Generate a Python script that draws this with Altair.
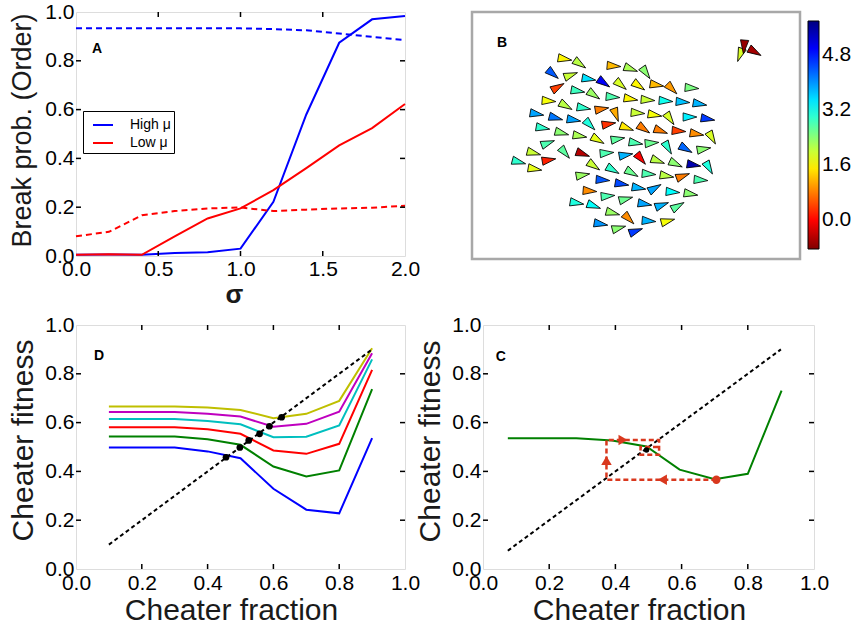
import altair as alt
import pandas as pd

FONT = "Liberation Sans"

# ---------------- Panel A : break probability vs sigma ----------------
sigma = [0.0, 0.2, 0.4, 0.6, 0.8, 1.0, 1.2, 1.4, 1.6, 1.8, 2.0]
high_break = [0.005, 0.006, 0.005, 0.012, 0.015, 0.03, 0.222, 0.58, 0.874, 0.97, 0.984]
low_break = [0.005, 0.007, 0.005, 0.08, 0.154, 0.195, 0.27, 0.36, 0.453, 0.524, 0.623]
high_order = [0.933, 0.933, 0.933, 0.933, 0.933, 0.933, 0.93, 0.925, 0.912, 0.898, 0.885]
low_order = [0.081, 0.099, 0.167, 0.184, 0.195, 0.199, 0.184, 0.19, 0.195, 0.198, 0.206]
a_series = ["High μ", "Low μ"]
a_colors = ["#0000ff", "#ff0000"]
a_xticks = [0.5, 1.0, 1.5]
a_yticks = [0.2, 0.4, 0.6, 0.8]

# ---------------- Panel B : agents (position, heading, colour value) ----------------
b_x = [93, 108, 142, 159, 174, 81, 99, 117, 132, 149, 167, 185, 200, 220, 86, 106, 122, 141, 159, 176,
       194, 211, 228, 77, 94, 112, 130, 144, 166, 183, 198, 218, 236, 65, 84, 102, 118, 137, 155, 172,
       189, 207, 225, 240, 71, 90, 108, 126, 146, 164, 180, 196, 214, 232, 76, 93, 111, 135, 154, 169,
       186, 204, 222, 237, 62, 47, 77, 63, 122, 141, 160, 177, 195, 211, 229, 111, 131, 150, 167, 183,
       201, 219, 118, 136, 154, 105, 122, 173, 190, 206, 141, 157, 177, 196, 129, 147, 164, 268, 272, 283]
b_y = [47, 52, 54, 57, 61, 62, 63, 67, 71, 73, 74, 73, 77, 76, 75, 79, 83, 85, 87, 88,
       89, 90, 92, 89, 94, 96, 97, 103, 101, 103, 107, 105, 107, 102, 106, 108, 113, 112, 116, 117,
       119, 119, 122, 126, 116, 121, 124, 128, 127, 131, 131, 136, 137, 137, 131, 141, 142, 141, 143, 147,
       149, 152, 153, 156, 141, 150, 148, 157, 154, 158, 161, 162, 164, 164, 168, 163, 168, 172, 176, 176,
       180, 182, 179, 184, 187, 191, 194, 192, 193, 194, 201, 207, 209, 209, 212, 216, 219, 43, 35, 40]
b_val = [1.6, 2.1, 1.2, 2.2, 2.4, 4.4, 2.0, 3.5, 5.0, 1.9, 1.6, 1.2, 1.0, 2.5, 0.4, 2.9, 2.3, 2.8, 1.6, 2.0,
         3.2, 3.7, 3.8, 1.7, 2.1, 3.0, 0.8, 1.1, 2.0, 1.7, 1.9, 3.4, 4.6, 3.9, 4.2, 3.9, 3.1, 0.3, 1.5, 0.8,
         0.8, 0.4, 0.9, 1.9, 3.0, 2.4, 2.2, 1.8, 2.7, 2.8, 2.6, 3.0, 4.3, 2.4, 2.8, 2.7, -0.5, 2.8, 3.8, 0.0,
         2.1, 2.4, 5.5, 3.1, 2.0, 3.0, 0.2, 1.8, 2.0, 3.0, 2.6, 2.8, 2.1, 0.8, 2.8, 2.3, 4.4, 4.5, 3.8, 3.9,
         3.3, 2.4, 0.9, 2.8, 2.6, 3.1, 3.3, 3.9, 3.8, 2.7, 2.3, 0.9, 3.8, 1.7, 4.0, 2.4, 4.6, 1.9, -0.7, -0.6]
b_heading = [10, 35, 5, 20, 55, 40, 340, 10, 35, 40, 35, 10, 45, 5, 330, 10, 35, 5, 10, 5,
             5, 5, 10, 5, 30, 10, 350, 70, 5, 10, 55, 0, 10, 10, 15, 10, 45, 350, 20, 35,
             20, 5, 10, 60, 10, 15, 10, 30, 350, 10, 355, 60, 30, 350, 340, 50, 20, 355, 350, 50,
             20, 25, 10, 60, 15, 15, 350, 10, 35, 30, 30, 5, 10, 340, 5, 350, 5, 10, 10, 330,
             5, 10, 5, 355, 345, 10, 20, 10, 340, 330, 15, 45, 5, 345, 10, 345, 340, 110, 95, 30]
jet_domain = [-0.84, -0.01, 1.65, 3.31, 4.97, 5.8]
jet_colors = ["#800000", "#ff0000", "#ffff00", "#00ffff", "#0000ff", "#000080"]
cbar_labels = [0.0, 1.6, 3.2, 4.8]

# ---------------- Panel D : cheater fitness curves ----------------
d_frac = [0.1, 0.2, 0.3, 0.4, 0.5, 0.6, 0.7, 0.8, 0.9]
d_blue = [0.498, 0.498, 0.498, 0.482, 0.454, 0.329, 0.243, 0.228, 0.536]
d_green = [0.543, 0.543, 0.543, 0.532, 0.509, 0.42, 0.379, 0.404, 0.737]
d_red = [0.581, 0.581, 0.581, 0.573, 0.554, 0.486, 0.472, 0.513, 0.816]
d_cyan = [0.615, 0.615, 0.615, 0.607, 0.593, 0.540, 0.542, 0.588, 0.859]
d_magenta = [0.643, 0.643, 0.643, 0.636, 0.625, 0.583, 0.595, 0.645, 0.884]
d_yellow = [0.666, 0.666, 0.666, 0.662, 0.652, 0.618, 0.636, 0.689, 0.905]
d_names = ["b", "g", "r", "c", "m", "y"]
d_colors = ["#0000ff", "#008000", "#ff0000", "#00bfbf", "#bf00bf", "#bfbf00"]
d_fixed_x = [0.456, 0.498, 0.525, 0.558, 0.588, 0.625]
d_fixed_y = [0.458, 0.498, 0.527, 0.554, 0.585, 0.622]
d_diag = [0.1, 0.9]

# ---------------- Panel C : cobweb on one curve ----------------
c_frac = [0.075, 0.282, 0.39, 0.494, 0.594, 0.70, 0.80, 0.902]
c_fit = [0.536, 0.536, 0.527, 0.502, 0.407, 0.368, 0.39, 0.731]
c_diag = [0.075, 0.9]
web_x = [0.705, 0.373, 0.373, 0.532, 0.532, 0.476, 0.476, 0.532]
web_y = [0.366, 0.366, 0.529, 0.529, 0.468, 0.468, 0.50, 0.50]
arrow_x = [0.423, 0.373, 0.542]
arrow_y = [0.529, 0.445, 0.366]
arrow_shape = ["triangle-right", "triangle-up", "triangle-left"]
start_pt = [0.705, 0.366]
fixed_pt = [0.494, 0.488]
fr_ticks = [0.2, 0.4, 0.6, 0.8]

RED = "#d9381e"


def axis(title, values, title_size, tx=None, ty=None, weight="normal", lpad=3):
    kw = dict(title=title, values=values, format=".1f", ticks=False, domain=False, grid=False,
              labelFontSize=21, labelFont=FONT, labelColor="black", labelPadding=lpad,
              labelFlush=False, labelOverlap=False, labelBound=False,
              titleFontSize=title_size, titleFont=FONT, titleFontWeight=weight,
              titleColor="#1a1a1a", titleBaseline="alphabetic")
    if tx is not None:
        kw["titleX"] = tx
    if ty is not None:
        kw["titleY"] = ty
    return alt.Axis(**kw)


def inner_ticks(xt, yt, X, Y, W, H, L=5):
    xdf = pd.DataFrame({"x": xt})
    ydf = pd.DataFrame({"y": yt})
    kw = dict(color="black", strokeWidth=1.5)
    return [
        alt.Chart(xdf).mark_rule(**kw).encode(x=X, y=alt.value(H - L), y2=alt.value(H)),
        alt.Chart(xdf).mark_rule(**kw).encode(x=X, y=alt.value(0), y2=alt.value(L)),
        alt.Chart(ydf).mark_rule(**kw).encode(y=Y, x=alt.value(0), x2=alt.value(L)),
        alt.Chart(ydf).mark_rule(**kw).encode(y=Y, x=alt.value(W - L), x2=alt.value(W)),
    ]


def label(X, Y, x, y, txt):
    return alt.Chart(pd.DataFrame({"x": [x], "y": [y], "t": [txt]})).mark_text(
        font=FONT, fontSize=14, fontWeight="bold", color="black").encode(x=X, y=Y, text="t:N")


# ---------- A ----------
AW, AH = 329, 244
a_rows = []
for s, hb, lb, ho, lo in zip(sigma, high_break, low_break, high_order, low_order):
    a_rows.append(dict(x=s, y=hb, s="High μ", k="break"))
    a_rows.append(dict(x=s, y=lb, s="Low μ", k="break"))
    a_rows.append(dict(x=s, y=ho, s="High μ", k="order"))
    a_rows.append(dict(x=s, y=lo, s="Low μ", k="order"))
a_df = pd.DataFrame(a_rows)
AX = alt.X("x:Q", scale=alt.Scale(domain=[0, 2], nice=False),
           axis=axis("σ", [0, 0.5, 1.0, 1.5, 2.0], 26, tx=158, ty=46, weight="bold", lpad=2))
AY = alt.Y("y:Q", scale=alt.Scale(domain=[0, 1], nice=False),
           axis=axis("Break prob. (Order)", [0, 0.2, 0.4, 0.6, 0.8, 1.0], 27, tx=-46, ty=118, lpad=2))
a_leg = alt.Legend(title=None, orient="none", legendX=7, legendY=99, symbolType="stroke", symbolSize=400,
                   symbolStrokeWidth=2, symbolOffset=6, labelOffset=16, labelFontSize=14, labelFont=FONT,
                   labelColor="black", fillColor="white", strokeColor="black", padding=3, rowPadding=0)
a_color = alt.Color("s:N", scale=alt.Scale(domain=a_series, range=a_colors), legend=a_leg)
a_solid = alt.Chart(a_df).transform_filter("datum.k == 'break'").mark_line(strokeWidth=2).encode(
    x=AX, y=AY, color=a_color)
a_dash = alt.Chart(a_df).transform_filter("datum.k == 'order'").mark_line(strokeWidth=2, strokeDash=[6, 4]).encode(
    x=AX, y=AY, color=a_color)
chart_a = alt.layer(a_solid, a_dash, *inner_ticks(a_xticks, a_yticks, AX, AY, AW, AH),
                    label(AX, AY, 0.128, 0.848, "A")).properties(width=AW, height=AH)

# ---------- B ----------
BW, BH = 328, 247
b_df = pd.DataFrame({"x": b_x, "y": b_y, "c": b_val, "a": b_heading})
BX = alt.X("x:Q", scale=alt.Scale(domain=[0, BW], nice=False), axis=None)
BY = alt.Y("y:Q", scale=alt.Scale(domain=[0, BH], nice=False, reverse=True), axis=None)
tri = "M1,0L-1,-0.6L-1,0.6Z"
b_leg = alt.Legend(title=None, orient="none", legendX=336, legendY=9, direction="vertical", type="gradient",
                   gradientLength=228, gradientThickness=11, gradientStrokeColor="black", gradientStrokeWidth=1,
                   values=cbar_labels, format=".1f", labelFontSize=21, labelFont=FONT, labelColor="black",
                   labelOffset=3, labelOverlap=False)
b_pts = alt.Chart(b_df).mark_point(shape=tri, filled=True, size=190, stroke="black", strokeWidth=0.8,
                                   opacity=1).encode(
    x=BX, y=BY,
    color=alt.Color("c:Q", scale=alt.Scale(domain=jet_domain, range=jet_colors, interpolate="rgb"), legend=b_leg),
    angle=alt.Angle("a:Q", scale=None),
)
chart_b = alt.layer(b_pts, label(BX, BY, 30, 31, "B")).properties(
    width=BW, height=BH, view=alt.ViewBackground(stroke="#a8a8a8", strokeWidth=2.5))

# ---------- D ----------
DW, DH = 329, 244
d_rows = []
for name, ys in zip(d_names, [d_blue, d_green, d_red, d_cyan, d_magenta, d_yellow]):
    for xv, yv in zip(d_frac, ys):
        d_rows.append(dict(x=xv, y=yv, s=name))
d_df = pd.DataFrame(d_rows)
DX = alt.X("x:Q", scale=alt.Scale(domain=[0, 1], nice=False),
           axis=axis("Cheater fraction", [0, 0.2, 0.4, 0.6, 0.8, 1.0], 30, tx=155, ty=50))
DY = alt.Y("y:Q", scale=alt.Scale(domain=[0, 1], nice=False),
           axis=axis("Cheater fitness", [0, 0.2, 0.4, 0.6, 0.8, 1.0], 30, tx=-44, ty=115, lpad=2))
d_lines = alt.Chart(d_df).mark_line(strokeWidth=2).encode(
    x=DX, y=DY, color=alt.Color("s:N", scale=alt.Scale(domain=d_names, range=d_colors), legend=None))
d_diag_l = alt.Chart(pd.DataFrame({"x": d_diag, "y": d_diag})).mark_line(
    color="black", strokeWidth=2, strokeDash=[4, 3]).encode(x=DX, y=DY)
d_dots = alt.Chart(pd.DataFrame({"x": d_fixed_x, "y": d_fixed_y})).mark_circle(
    color="black", size=45, opacity=1).encode(x=DX, y=DY)
chart_d = alt.layer(d_lines, d_diag_l, d_dots, *inner_ticks(fr_ticks, fr_ticks, DX, DY, DW, DH),
                    label(DX, DY, 0.07, 0.873, "D")).properties(width=DW, height=DH)

# ---------- C ----------
CW, CH = 331, 244
CX = alt.X("x:Q", scale=alt.Scale(domain=[0, 1], nice=False),
           axis=axis("Cheater fraction", [0, 0.2, 0.4, 0.6, 0.8, 1.0], 30, tx=156, ty=50))
CY = alt.Y("y:Q", scale=alt.Scale(domain=[0, 1], nice=False),
           axis=axis("Cheater fitness", [0, 0.2, 0.4, 0.6, 0.8, 1.0], 30, tx=-44, ty=116, lpad=2))
c_line = alt.Chart(pd.DataFrame({"x": c_frac, "y": c_fit})).mark_line(color="#008000", strokeWidth=2).encode(x=CX, y=CY)
c_diag_l = alt.Chart(pd.DataFrame({"x": c_diag, "y": c_diag})).mark_line(
    color="black", strokeWidth=2, strokeDash=[4, 3]).encode(x=CX, y=CY)
c_web = alt.Chart(pd.DataFrame({"x": web_x, "y": web_y, "o": list(range(len(web_x)))})).mark_line(
    color=RED, strokeWidth=2.5, strokeDash=[5, 3]).encode(x=CX, y=CY, order="o:Q")
c_arrows = alt.Chart(pd.DataFrame({"x": arrow_x, "y": arrow_y, "sh": arrow_shape})).mark_point(
    filled=True, color=RED, size=110, opacity=1).encode(x=CX, y=CY, shape=alt.Shape("sh:N", scale=None))
c_start = alt.Chart(pd.DataFrame({"x": [start_pt[0]], "y": [start_pt[1]]})).mark_circle(
    color=RED, size=70, opacity=1).encode(x=CX, y=CY)
c_fix = alt.Chart(pd.DataFrame({"x": [fixed_pt[0]], "y": [fixed_pt[1]]})).mark_circle(
    color="black", size=30, opacity=1).encode(x=CX, y=CY)
chart_c = alt.layer(c_line, c_diag_l, c_web, c_arrows, c_start, c_fix,
                    *inner_ticks(fr_ticks, fr_ticks, CX, CY, CW, CH),
                    label(CX, CY, 0.054, 0.869, "C")).properties(width=CW, height=CH)

top = alt.hconcat(chart_a, chart_b, spacing=67, bounds="flush").resolve_scale(
    x="independent", y="independent", color="independent")
bottom = alt.hconcat(chart_d, chart_c, spacing=78, bounds="flush").resolve_scale(
    x="independent", y="independent", color="independent")
chart = alt.vconcat(top, bottom, spacing=5, bounds="full").resolve_scale(
    x="independent", y="independent", color="independent").properties(
    padding={"left": 7, "top": 0, "right": 0, "bottom": 0}
).configure_view(stroke="black", strokeWidth=2.5).configure(font=FONT, background="white")

chart.save("out.html", embed_options={"renderer": "svg", "actions": False})
